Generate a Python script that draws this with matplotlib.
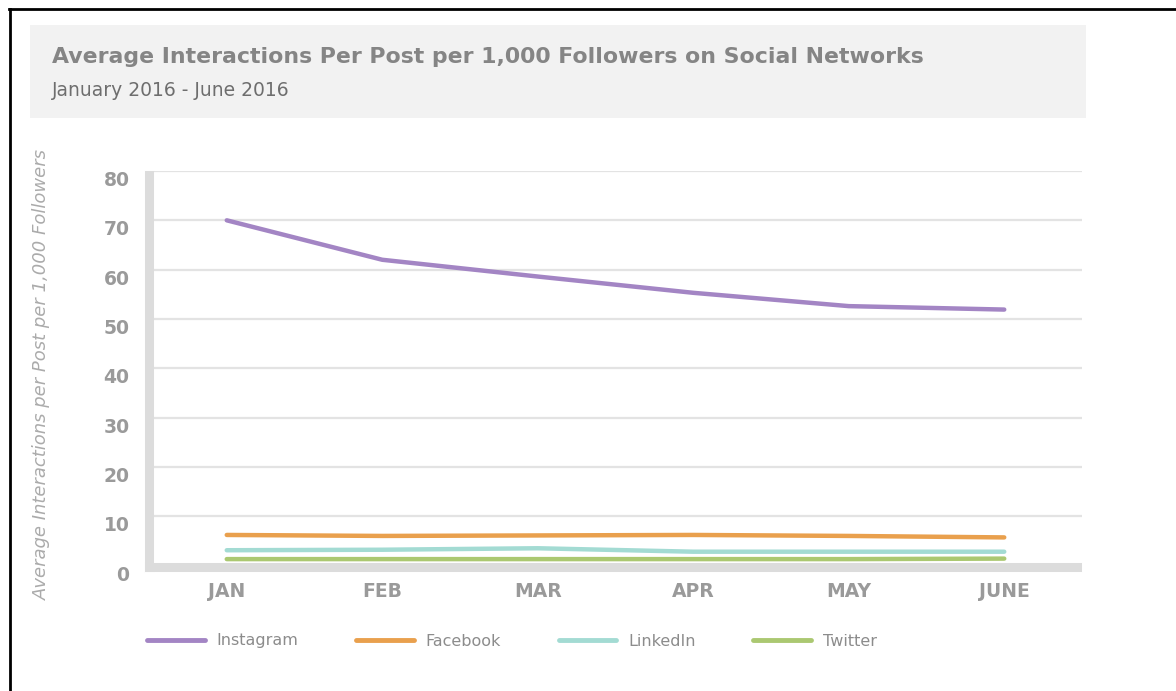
"""Average interactions per post per 1,000 followers, Jan-Jun 2016."""

import matplotlib.pyplot as plt
from matplotlib.lines import Line2D
from matplotlib.patches import Rectangle

months = ["JAN", "FEB", "MAR", "APR", "MAY", "JUNE"]
instagram = [70.0, 62.0, 58.6, 55.3, 52.6, 51.9]
facebook = [6.2, 6.0, 6.1, 6.2, 6.0, 5.7]
linkedin = [3.1, 3.2, 3.5, 2.8, 2.8, 2.8]
twitter = [1.3, 1.3, 1.3, 1.3, 1.3, 1.4]

series = [
    ("Instagram", instagram, "#a385c4"),
    ("Facebook", facebook, "#e9a04d"),
    ("LinkedIn", linkedin, "#a3dbd3"),
    ("Twitter", twitter, "#abc871"),
]

W, H = 1176, 691
fig = plt.figure(figsize=(W / 100, H / 100), dpi=100)
fig.patch.set_facecolor("white")


def px(x, y):
    return x / W, 1 - y / H


# header box
fig.patches.append(Rectangle(px(30, 118), (1086 - 30) / W, (118 - 25) / H,
                             transform=fig.transFigure, facecolor="#f2f2f2",
                             edgecolor="none", zorder=0))
fig.text(*px(52, 57), "Average Interactions Per Post per 1,000 Followers on Social Networks",
         fontsize=15.8, fontweight="bold", color="#858585", family="DejaVu Sans", va="center")
fig.text(*px(52, 90), "January 2016 - June 2016",
         fontsize=13.5, color="#6e6e6e", family="DejaVu Sans", va="center")

# black frame on top and left
fig.add_artist(Line2D([9 / W, 1], [1 - 9 / H] * 2, transform=fig.transFigure,
                      color="black", lw=2))
fig.add_artist(Line2D([10 / W] * 2, [0, 1 - 9 / H], transform=fig.transFigure,
                      color="black", lw=2))

# axes: x pixels 149..1082, y pixels 567 (bottom) .. 171 (top)
left, right, bottom, top = 149, 1082, 567, 171
ax = fig.add_axes([left / W, 1 - bottom / H, (right - left) / W, (bottom - top) / H])
ax.set_xlim(-0.5, 5.5)
ax.set_ylim(-0.3, 80)

x = list(range(len(months)))
for name, vals, color in series:
    ax.plot(x, vals, color=color, lw=3.2, solid_capstyle="round", label=name, zorder=3)

ax.set_xticks(x)
ax.set_xticklabels(months)
ax.set_yticks(range(0, 81, 10))
ax.tick_params(length=0, labelsize=13.5, labelcolor="#9a9a9a")
ax.tick_params(axis="y", pad=14)
ax.tick_params(axis="x", pad=11)
for lab in ax.get_xticklabels() + ax.get_yticklabels():
    lab.set_fontweight("bold")
    lab.set_family("DejaVu Sans")
for lab in ax.get_yticklabels():
    lab.set_va("top")

ax.grid(axis="y", color="#e3e3e3", lw=1.6)
ax.set_axisbelow(True)
for side in ("top", "right"):
    ax.spines[side].set_visible(False)
for side in ("left", "bottom"):
    ax.spines[side].set_color("#dcdcdc")
    ax.spines[side].set_linewidth(6.5)
    ax.spines[side].set_capstyle("projecting")
    ax.spines[side].set_zorder(2)
ax.spines["left"].set_bounds(-0.3, 79.1)
ax.spines["bottom"].set_bounds(-0.5, 5.47)

fig.text(*px(42, 375), "Average Interactions per Post per 1,000 Followers",
         rotation=90, fontsize=13, style="italic", color="#ababab",
         family="DejaVu Sans", ha="center", va="center")

handles = [Line2D([], [], color=c, lw=3.5, solid_capstyle="round") for _, _, c in series]
fig.legend(handles, [n for n, _, _ in series], ncol=4, frameon=False,
           loc="center left", bbox_to_anchor=px(133, 641),
           handlelength=3.6, handletextpad=0.75, columnspacing=3.6,
           prop={"family": "DejaVu Sans", "size": 11.5}, labelcolor="#8c8c8c")

fig.savefig("out.png", dpi=100)
